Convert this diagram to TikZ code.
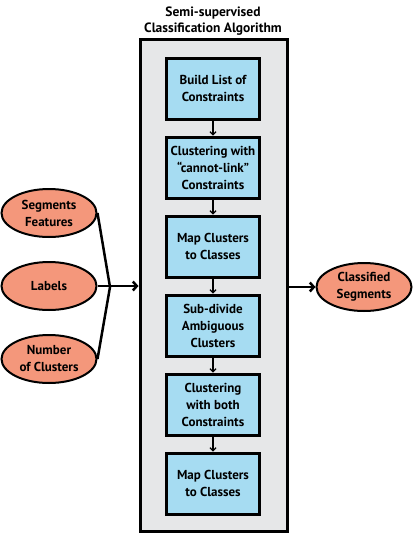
\documentclass[tikz,border=0pt]{standalone}
\usepackage{fontspec}
\setmainfont{PT Sans}
\usetikzlibrary{positioning,arrows.meta,shapes.geometric}
\definecolor{boxgray}{HTML}{E6E7E8}
\definecolor{stepblue}{HTML}{A6DCF2}
\definecolor{salmon}{HTML}{F4977B}
\tikzstyle{stepbox} = [rectangle, draw=black, line width=3pt, fill=stepblue, minimum width=93pt, minimum height=61pt, align=center, font=\bfseries\fontsize{13}{17}\selectfont, inner sep=0pt]
\tikzstyle{data} = [ellipse, draw=black, line width=2pt, fill=salmon, minimum width=95pt, minimum height=48pt, align=center, font=\bfseries\fontsize{13}{17}\selectfont, inner sep=0pt]
\tikzstyle{flow} = [-{Straight Barb[length=3pt,width=6pt]}, line width=1.2pt]
\tikzstyle{bigflow} = [-{Straight Barb[length=4pt,width=9pt]}, line width=2.5pt]

\begin{document}
\begin{tikzpicture}[x=1pt,y=-1pt]
\useasboundingbox (0,0) rectangle (414,536);
% algorithm frame
\node[draw=black, line width=3pt, fill=boxgray, minimum width=147pt, minimum height=492pt] (algo) at (213.5,285) {};
\node[font=\bfseries\fontsize{13.5}{16}\selectfont, align=center] (title) at (213,21) {Semi-supervised\\Classification Algorithm};
% steps
\node[stepbox] (build) at (213,88.5) {Build List of\\Constraints};
\node[stepbox, below=15pt of build] (cannot) {Clustering with\\``cannot-link''\\Constraints};
\node[stepbox, below=15pt of cannot] (mapa) {Map Clusters\\to Classes};
\node[stepbox, below=15pt of mapa] (subdiv) {Sub-divide\\Ambiguous\\Clusters};
\node[stepbox, below=15pt of subdiv] (both) {Clustering\\with both\\Constraints};
\node[stepbox, below=15pt of both] (mapb) {Map Clusters\\to Classes};
\draw[flow] (build) -- (cannot);
\draw[flow] (cannot) -- (mapa);
\draw[flow] (mapa) -- (subdiv);
\draw[flow] (subdiv) -- (both);
\draw[flow] (both) -- (mapb);
% inputs
\node[data] (feat) at (49,213) {Segments\\Features};
\node[data] (lab) at (49,286) {Labels};
\node[data] (num) at (49,359) {Number\\of Clusters};
\coordinate (join) at (110,287);
\draw[line width=2.5pt] (feat.east) -- (join) -- (num.east);
\draw[bigflow] (lab.east) -- (algo.west |- lab);
% output
\node[data] (out) at (364,287) {Classified\\Segments};
\draw[bigflow] (algo.east |- out) -- (out);
\end{tikzpicture}
\end{document}
